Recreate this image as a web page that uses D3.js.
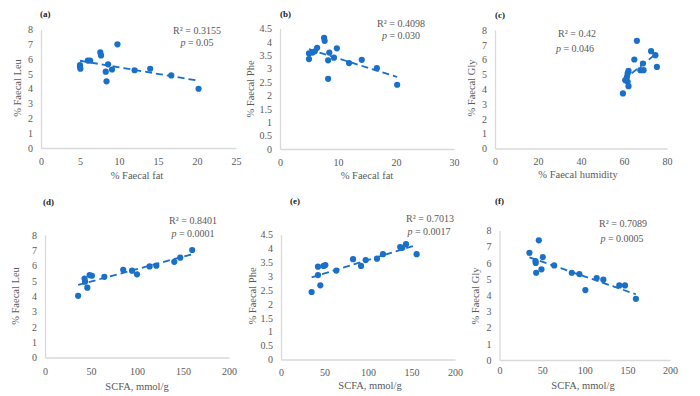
<!DOCTYPE html>
<html>
<head>
<meta charset="utf-8">
<script src="https://cdn.jsdelivr.net/npm/d3@7"></script>
<style>
  body { margin: 0; background: #fff; }
  svg text { font-family: "Liberation Serif", "DejaVu Serif", serif; }
</style>
</head>
<body>
<div id="chart"></div>
<script>
// ---- data ----
const fatA = [5.0, 5.0, 5.05, 6.0, 6.3, 7.6, 7.7, 9.8, 8.6, 8.3, 9.1, 8.4, 12.0, 14.0, 16.7, 20.2];
const leuA = [5.6, 5.5, 5.35, 5.9, 5.9, 6.45, 6.25, 7.0, 5.65, 5.15, 5.3, 4.5, 5.25, 5.35, 4.9, 4.0];

const fatB = [5.0, 5.0, 5.6, 6.0, 6.4, 7.6, 7.7, 8.5, 8.3, 8.3, 9.3, 9.8, 11.9, 14.1, 16.7, 20.2];
const pheB = [3.36, 3.57, 3.6, 3.65, 3.78, 4.15, 4.04, 3.6, 3.31, 2.62, 3.41, 3.76, 3.21, 3.33, 3.02, 2.4];

const humC = [59.5, 60.6, 61.7, 62.1, 61.4, 61.7, 62.1, 64.8, 66.0, 67.6, 69.1, 68.8, 72.6, 74.6, 75.3];
const glyC = [3.72, 4.61, 4.5, 4.21, 4.84, 5.07, 5.24, 6.01, 7.27, 5.29, 5.29, 5.74, 6.57, 6.3, 5.51];

const scfaD = [36, 43, 43.5, 46, 48.5, 51, 64.5, 85, 94.6, 100, 113.7, 121, 140.5, 147, 160];
const leuD = [4.03, 5.16, 4.95, 4.56, 5.38, 5.34, 5.27, 5.73, 5.67, 5.43, 5.95, 6.0, 6.25, 6.52, 7.02];

const scfaE = [35.2, 42.5, 42.5, 45.2, 49, 51, 63.6, 82.8, 92, 97.3, 110.3, 117.2, 137, 139.4, 143.7, 155.9];
const pheE = [2.43, 3.04, 3.34, 2.67, 3.37, 3.4, 3.2, 3.61, 3.37, 3.58, 3.63, 3.79, 4.05, 4.02, 4.15, 3.79];

const scfaF = [35.1, 42.2, 42.5, 43, 46.1, 49.2, 50.8, 64.1, 84.8, 93.7, 100.7, 114, 121.8, 140.5, 147.2, 160];
const glyF = [6.62, 6.11, 6.0, 5.39, 7.39, 5.6, 6.36, 5.84, 5.39, 5.31, 4.32, 5.06, 4.96, 4.61, 4.61, 3.78];

const panelLabels = ["(a)", "(b)", "(c)", "(d)", "(e)", "(f)"];
const xTitles = ["% Faecal fat", "% Faecal fat", "% Faecal humidity", "SCFA, mmol/g", "SCFA, mmol/g", "SCFA, mmol/g"];
const yTitles = ["% Faecal Leu", "% Faecal Phe", "% Faecal Gly", "% Faecal Leu", "% Faecal Phe", "% Faecal Gly"];
const r2Labels = ["0.3155", "0.4098", "0.42", "0.8401", "0.7013", "0.7089"];
const pLabels = ["0.05", "0.030", "0.046", "0.0001", "0.0017", "0.0005"];
const xTicks = [[0, 5, 10, 15, 20, 25], [0, 10, 20, 30], [0, 20, 40, 60, 80],
                [0, 50, 100, 150, 200], [0, 50, 100, 150, 200], [0, 50, 100, 150, 200]];
const yTicks8 = [0, 1, 2, 3, 4, 5, 6, 7, 8];
const yTicks45 = [0, 0.5, 1, 1.5, 2, 2.5, 3, 3.5, 4, 4.5];

// ---- layout (pixel boxes of each plot area) ----
const panels = [
  { xs: fatA, ys: leuA, x0: 41, x1: 236, y0: 148, y1: 29.5, yt: yTicks8, pad: 10,
    lab: [40, 17], xt: [137, 179], yl: [17, 88], r2: [197, 34], pp: [197, 46] },
  { xs: fatB, ys: pheB, x0: 280, x1: 454, y0: 149, y1: 28.5, yt: yTicks45, pad: 10,
    lab: [280, 17], xt: [367, 179], yl: [250, 89], r2: [401, 27], pp: [401, 39] },
  { xs: humC, ys: glyC, x0: 495, x1: 667, y0: 148.5, y1: 30, yt: yTicks8, pad: 9,
    lab: [495, 18], xt: [578, 178], yl: [471, 88], r2: [577, 37], pp: [575, 52] },
  { xs: scfaD, ys: leuD, x0: 45, x1: 229, y0: 357.5, y1: 235, yt: yTicks8, pad: 10,
    lab: [43, 205], xt: [137, 390], yl: [15, 296], r2: [193, 224], pp: [193, 237] },
  { xs: scfaE, ys: pheE, x0: 281, x1: 455, y0: 359.5, y1: 234.5, yt: yTicks45, pad: 9,
    lab: [290, 204], xt: [370, 389], yl: [252, 296], r2: [430, 222], pp: [429, 235] },
  { xs: scfaF, ys: glyF, x0: 499.5, x1: 670, y0: 360, y1: 230.5, yt: yTicks8, pad: 7,
    lab: [495, 204], xt: [583, 389], yl: [475, 296], r2: [623, 227], pp: [622, 242] }
];

const blue = "#1a6fc9";
const axisGray = "#d9d9d9";
const textGray = "#595959";

const svg = d3.select("#chart").append("svg")
  .attr("width", 700).attr("height", 396);

// least squares fit for the dashed trendline
function linearFit(xs, ys) {
  const mx = d3.mean(xs), my = d3.mean(ys);
  let sxy = 0, sxx = 0;
  for (let i = 0; i < xs.length; i++) {
    sxy += (xs[i] - mx) * (ys[i] - my);
    sxx += (xs[i] - mx) * (xs[i] - mx);
  }
  const b = sxy / sxx;
  return x => my + b * (x - mx);
}

panels.forEach((p, i) => {
  const xt = xTicks[i];
  const x = d3.scaleLinear().domain([0, xt[xt.length - 1]]).range([p.x0, p.x1]);
  const y = d3.scaleLinear().domain([0, p.yt[p.yt.length - 1]]).range([p.y0, p.y1]);
  const g = svg.append("g");

  // y axis
  const ya = g.append("g").attr("transform", "translate(" + p.x0 + ",0)")
    .call(d3.axisLeft(y).tickValues(p.yt).tickSize(0).tickPadding(8).tickFormat(d3.format("")));
  ya.select(".domain").attr("stroke", axisGray).attr("stroke-width", 1.3);
  ya.selectAll("text").attr("fill", textGray).style("font-size", "10px");

  // x axis
  const xa = g.append("g").attr("transform", "translate(0," + p.y0 + ")")
    .call(d3.axisBottom(x).tickValues(xt).tickSize(0).tickPadding(p.pad).tickFormat(d3.format("")));
  xa.select(".domain").attr("stroke", axisGray).attr("stroke-width", 1.3);
  xa.selectAll("text").attr("fill", textGray).style("font-size", "10px");

  // trendline
  const f = linearFit(p.xs, p.ys);
  const ext = d3.extent(p.xs);
  g.append("line")
    .attr("x1", x(ext[0])).attr("y1", y(f(ext[0])))
    .attr("x2", x(ext[1])).attr("y2", y(f(ext[1])))
    .attr("stroke", blue).attr("stroke-width", 1.8)
    .attr("stroke-dasharray", "7,4");

  // points
  g.selectAll("circle").data(p.xs).join("circle")
    .attr("cx", d => x(d))
    .attr("cy", (d, j) => y(p.ys[j]))
    .attr("r", 3.1)
    .attr("fill", blue);

  // panel label
  g.append("text").attr("x", p.lab[0]).attr("y", p.lab[1])
    .style("font-size", "9px").style("font-weight", "bold").attr("fill", "#222")
    .text(panelLabels[i]);

  // axis titles
  g.append("text").attr("x", p.xt[0]).attr("y", p.xt[1])
    .attr("text-anchor", "middle").style("font-size", "10.5px").attr("fill", textGray)
    .text(xTitles[i]);
  g.append("text")
    .attr("transform", "translate(" + p.yl[0] + "," + p.yl[1] + ") rotate(-90)")
    .attr("text-anchor", "middle").attr("dy", "0.35em")
    .style("font-size", "10.5px").attr("fill", textGray)
    .text(yTitles[i]);

  // R² and p
  g.append("text").attr("x", p.r2[0]).attr("y", p.r2[1])
    .attr("text-anchor", "middle").style("font-size", "10px").attr("fill", textGray)
    .text("R² = " + r2Labels[i]);
  const pt = g.append("text").attr("x", p.pp[0]).attr("y", p.pp[1])
    .attr("text-anchor", "middle").style("font-size", "10px").attr("fill", textGray);
  pt.append("tspan").style("font-style", "italic").text("p");
  pt.append("tspan").text(" = " + pLabels[i]);
});
</script>
</body>
</html>
